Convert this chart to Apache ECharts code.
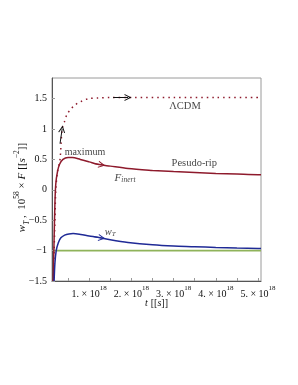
<!DOCTYPE html>
<html><head><meta charset="utf-8">
<script src="https://cdn.jsdelivr.net/npm/echarts@6/dist/echarts.min.js"></script>
<style>html,body{margin:0;padding:0;background:#fff}#c{width:298px;height:385px}</style>
</head><body><div id="c"></div>
<script>
// time in units of 1e18 s
const lcdmT = [0.15,0.17,0.19,0.21,0.25,0.31,0.36,0.42,0.48,0.57,0.67,0.8,0.98,1.2,1.5,2.0,3.0,4.0,5.07];
const lcdmV = [-1.5,-1.0,-0.5,0.0,0.3,0.5,1.0,1.13,1.25,1.33,1.4,1.45,1.5,1.51,1.52,1.52,1.52,1.52,1.52];
const fT = [0.15,0.17,0.19,0.21,0.25,0.3,0.38,0.5,0.6,0.79,1.0,1.2,1.5,1.92,2.5,3.0,3.5,4.0,4.5,5.0,5.07];
const fV = [-1.5,-0.8,-0.2,0.1,0.3,0.42,0.5,0.53,0.53,0.5,0.46,0.42,0.39,0.35,0.32,0.3,0.285,0.27,0.26,0.25,0.25];
const wT = [0.17,0.19,0.22,0.27,0.33,0.42,0.52,0.62,0.8,1.0,1.2,1.5,1.92,2.5,3.0,3.5,4.0,4.5,5.0,5.07];
const wV = [-1.5,-1.2,-1.0,-0.87,-0.79,-0.745,-0.725,-0.72,-0.735,-0.76,-0.78,-0.82,-0.865,-0.905,-0.925,-0.935,-0.948,-0.958,-0.965,-0.966];
const refT = [0.15,5.07];
const refV = [-1,-1];
const xTicks = [1,2,3,4,5];
const yTicks = [-1.5,-1,-0.5,0,0.5,1,1.5];

const zip = (a,b)=>a.map((v,i)=>[v,b[i]]);
const FONT = 'Liberation Serif';
const red = '#8e1a2c', blue = '#1f2a96', green = '#8fb35a';
const chev = 'path://M0,10 L5,0 L10,10 L8.6,10 L5,3.2 L1.4,10 Z';
function arrow(p1,p2,color){
  return {silent:true,animation:false,symbol:['none',chev],symbolSize:[7,7],
    label:{show:false},lineStyle:{color:color,width:1,type:'solid'},emphasis:{disabled:true},
    data:[[{coord:p1},{coord:p2}]]};
}
const chart = echarts.init(document.getElementById('c'),null,{renderer:'canvas'});
chart.setOption({
  animation:false,
  textStyle:{fontFamily:FONT},
  grid:{left:52,right:37,top:78,bottom:104,containLabel:false,outerBoundsMode:'none',show:true,borderColor:'#9a9a9a',borderWidth:1},
  xAxis:{type:'value',min:0.12,max:5.07,
    axisLine:{show:true,onZero:false,lineStyle:{color:'#555',width:1}},
    splitLine:{show:false},
    axisTick:{show:true,inside:true,length:3,customValues:[0.5,1,1.5,2,2.5,3,3.5,4,4.5,5],lineStyle:{color:'#999'}},
    axisLabel:{customValues:xTicks,margin:4,color:'#111',fontFamily:FONT,
      formatter:v=>'{a|'+v+'. × 10}{s|18}',
      rich:{a:{fontSize:10,fontFamily:FONT,color:'#111',lineHeight:14,verticalAlign:'bottom'},
            s:{fontSize:7,fontFamily:FONT,color:'#111',lineHeight:14,verticalAlign:'top'}}},
    name:'{i|t} {a|[[}{i|s}{a|]]}',nameLocation:'middle',nameGap:16,nameMoveOverlap:false,
    nameTextStyle:{rich:{i:{fontSize:10,fontStyle:'italic',fontFamily:FONT,color:'#111'},a:{fontSize:10,fontFamily:FONT,color:'#111'}}}
  },
  yAxis:{type:'value',min:-1.5,max:1.84,
    axisLine:{show:true,onZero:false,lineStyle:{color:'#555',width:1}},
    splitLine:{show:false},
    axisTick:{show:true,inside:true,length:3,customValues:yTicks,lineStyle:{color:'#999'}},
    axisLabel:{customValues:yTicks,margin:5,color:'#111',fontSize:10,fontFamily:FONT,
      formatter:v=>v<0?'−'+Math.abs(v):String(v)},
    name:'{i|w}{sb|T}{a| ,  10}{sp|58}{a| × }{i|F} {a|[[}{i|s}{sp|−2}{a|]]}',
    nameLocation:'middle',nameRotate:90,nameGap:24,nameMoveOverlap:false,
    nameTextStyle:{padding:[0,16,0,0],rich:{
      i:{fontSize:11,fontStyle:'italic',fontFamily:FONT,color:'#111',lineHeight:15,verticalAlign:'bottom'},
      a:{fontSize:11,fontFamily:FONT,color:'#111',lineHeight:15,verticalAlign:'bottom'},
      sb:{fontSize:7.5,fontStyle:'italic',fontFamily:FONT,color:'#111',lineHeight:15,verticalAlign:'bottom',padding:[0,0,-3,0]},
      sp:{fontSize:7.5,fontFamily:FONT,color:'#111',lineHeight:15,verticalAlign:'top'}}}
  },
  series:[
    {type:'line',data:zip(refT,refV),showSymbol:false,lineStyle:{color:green,width:1.6},z:2},
    {type:'line',data:zip(lcdmT,lcdmV),showSymbol:false,smooth:0.3,lineStyle:{color:red,width:1.5,type:[1.5,4]},z:3,
      markLine:{silent:true,animation:false,symbol:['none',chev],symbolSize:[7,7],label:{show:false},
        lineStyle:{color:'#111',width:1,type:'solid'},emphasis:{disabled:true},
        data:[[{coord:[1.57,1.52]},{coord:[1.92,1.52]}],[{coord:[0.31,0.76]},{coord:[0.36,1.0]}]]}},
    {type:'line',data:zip(fT,fV),showSymbol:false,smooth:0.3,lineStyle:{color:red,width:1.5},z:4,
      markLine:arrow([1.1,0.435],[1.3,0.41],red)},
    {type:'line',data:zip(wT,wV),showSymbol:false,smooth:0.3,lineStyle:{color:blue,width:1.5},z:4,
      markLine:arrow([1.1,-0.77],[1.3,-0.792],blue)},
    {type:'scatter',symbolSize:0,silent:true,z:6,
      label:{show:true,position:'inside',color:'#111',fontFamily:FONT,fontSize:10.5},
      data:[
        {value:[3.27,1.37],label:{formatter:'ΛCDM'}},
        {value:[3.49,0.445],label:{formatter:'Pesudo-rip'}},
        {value:[0.9,0.61],label:{formatter:'maximum',fontSize:10}},
        {value:[1.85,0.23],label:{formatter:'{i|F}{s|inert}',rich:{i:{fontSize:11,fontStyle:'italic',fontFamily:FONT,color:'#111',verticalAlign:'bottom',lineHeight:14},s:{fontSize:7.5,fontStyle:'italic',fontFamily:FONT,color:'#111',verticalAlign:'bottom',lineHeight:16}}}},
        {value:[1.5,-0.66],label:{formatter:'{i|w}{s|T}',rich:{i:{fontSize:10.5,fontStyle:'italic',fontFamily:FONT,color:'#111',verticalAlign:'bottom',lineHeight:14},s:{fontSize:7,fontStyle:'italic',fontFamily:FONT,color:'#111',verticalAlign:'bottom',lineHeight:16}}}}
      ]}
  ]
});
</script></body></html>
